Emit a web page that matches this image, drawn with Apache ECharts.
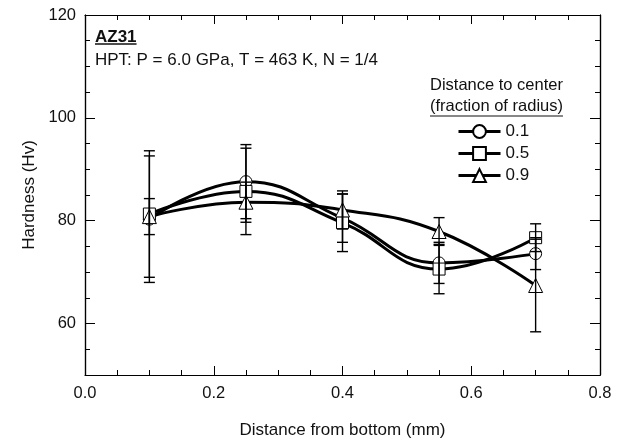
<!DOCTYPE html>
<html lang="en">
<head>
    <meta charset="UTF-8">
    <title>AZ31 hardness</title>
    <style>
        * { margin: 0; padding: 0; }
        body { background: #fff; }
        .mychart { width: 630px; height: 447px; }
    </style>
</head>
<body>
    <div class="mychart"></div>
</body>
<script src="https://cdn.jsdelivr.net/npm/echarts@6/dist/echarts.min.js"></script>
<script>
    // distance from bottom (mm)
    const xPos = [0.1, 0.25, 0.4, 0.55, 0.7]
    // legend names = fraction of radius
    const names = ['0.1', '0.5', '0.9']
    const symbols = ['circle', 'rect', 'triangle']
    // hardness values (Hv)
    const hv01 = [80.3, 87.6, 80.5, 71.8, 73.6]
    const hv05 = [81.3, 85.7, 79.6, 70.6, 76.7]
    const hv09 = [80.8, 83.6, 82.1, 77.9, 67.4]
    // +/- error
    const err01 = [12.3, 7.2, 4.7, 4.0, 3.1]
    const err05 = [12.3, 8.4, 5.6, 4.8, 2.7]
    const err09 = [3.5, 3.9, 3.7, 2.7, 9.0]
    const yLabels = [60, 80, 100, 120]

    const FONT = 'Liberation Sans, Arial, sans-serif'
    const values = [hv01, hv05, hv09]
    const errs = [err01, err05, err09]

    const mychartDom = document.querySelector('.mychart')
    const myChart = echarts.init(mychartDom)

    // text width for underlines
    const ctx = document.createElement('canvas').getContext('2d')
    function textW(str, font) {
        ctx.font = font
        return ctx.measureText(str).width
    }

    const lineSeries = names.map((n, i) => ({
        name: n,
        type: 'line',
        xAxisIndex: 0,
        yAxisIndex: 0,
        smooth: 0.45,
        data: xPos.map((x, j) => [x, values[i][j]]),
        symbol: symbols[i],
        symbolSize: i === 2 ? 14 : 12,
        lineStyle: { color: '#000', width: 3 },
        itemStyle: { color: '#fff', borderColor: '#000', borderWidth: 1 },
        z: 3
    }))

    const errSeries = names.map((n, i) => ({
        type: 'custom',
        xAxisIndex: 0,
        yAxisIndex: 0,
        silent: true,
        z: 4,
        data: xPos.map((x, j) => [x, values[i][j] - errs[i][j], values[i][j] + errs[i][j]]),
        renderItem: function (params, api) {
            const lo = api.coord([api.value(0), api.value(1)])
            const hi = api.coord([api.value(0), api.value(2)])
            const w = 5.5
            const st = { stroke: '#000', lineWidth: 1.4 }
            return {
                type: 'group',
                children: [
                    { type: 'line', shape: { x1: lo[0], y1: lo[1], x2: hi[0], y2: hi[1] }, style: st },
                    { type: 'line', shape: { x1: lo[0] - w, y1: lo[1], x2: lo[0] + w, y2: lo[1] }, style: st },
                    { type: 'line', shape: { x1: hi[0] - w, y1: hi[1], x2: hi[0] + w, y2: hi[1] }, style: st }
                ]
            }
        }
    }))

    const axLine = { show: true, lineStyle: { color: '#000', width: 1.2 } }
    function xAx(pos, withLabel) {
        return {
            type: 'value', position: pos, min: 0, max: 0.8, interval: 0.2,
            axisLine: axLine,
            axisTick: { inside: true, length: 9, lineStyle: { color: '#000' } },
            minorTick: { show: true, splitNumber: 4, length: 5, lineStyle: { color: '#000' } },
            splitLine: { show: false },
            axisLabel: {
                show: withLabel, margin: 10, color: '#111', fontSize: 16.5, fontFamily: FONT,
                formatter: v => v.toFixed(1)
            },
            name: withLabel ? 'Distance from bottom (mm)' : '',
            nameLocation: 'middle', nameGap: 47,
            nameTextStyle: { fontSize: 17, color: '#111', fontFamily: FONT }
        }
    }
    function yAx(pos, major, withLabel) {
        const a = {
            type: 'value', position: pos, min: 50, max: 120, interval: 5,
            axisLine: axLine,
            axisTick: { inside: true, length: major ? 10 : 5, lineStyle: { color: '#000' } },
            splitLine: { show: false },
            axisLabel: { show: false }
        }
        if (major) a.axisTick.customValues = yLabels
        if (withLabel) {
            a.axisLabel = {
                show: true, customValues: yLabels, margin: 9,
                color: '#111', fontSize: 16.5, fontFamily: FONT
            }
            a.name = 'Hardness (Hv)'
            a.nameLocation = 'middle'
            a.nameGap = 46
            a.nameTextStyle = { fontSize: 17, color: '#111', fontFamily: FONT }
        }
        return a
    }

    const f17 = '17px ' + FONT
    const fb17 = 'bold 17px ' + FONT
    const fT = '16.5px ' + FONT
    const t1 = 'Distance to center'
    const t2 = '(fraction of radius)'

    const config = {
        animation: false,
        grid: { left: 85, right: 30, top: 15, bottom: 72 },
        xAxis: [xAx('bottom', true), xAx('top', false)],
        yAxis: [yAx('left', false, true), yAx('left', true, false), yAx('right', false, false), yAx('right', true, false)],
        legend: {
            data: names,
            orient: 'vertical',
            left: 457,
            top: 123,
            padding: 0,
            itemWidth: 42,
            itemHeight: 16,
            itemGap: 5,
            lineStyle: { width: 3 },
            textStyle: { fontSize: 17, color: '#111', fontFamily: FONT }
        },
        graphic: [
            { type: 'text', left: 95, top: 29, style: { text: 'AZ31', font: fb17, fill: '#111' } },
            { type: 'line', shape: { x1: 95, y1: 44, x2: 95 + textW('AZ31', fb17), y2: 44 }, style: { stroke: '#111', lineWidth: 1.5 } },
            { type: 'text', left: 95, top: 52, style: { text: 'HPT: P = 6.0 GPa, T = 463 K, N = 1/4', font: f17, fill: '#111' } },
            { type: 'text', left: 430, top: 77, style: { text: t1, font: fT, fill: '#111' } },
            { type: 'text', left: 430, top: 98, style: { text: t2, font: fT, fill: '#111' } },
            { type: 'line', shape: { x1: 430, y1: 116, x2: 430 + textW(t2, fT), y2: 116 }, style: { stroke: '#111', lineWidth: 1.2 } }
        ],
        series: lineSeries.concat(errSeries)
    }

    myChart.setOption(config)
</script>
</html>
